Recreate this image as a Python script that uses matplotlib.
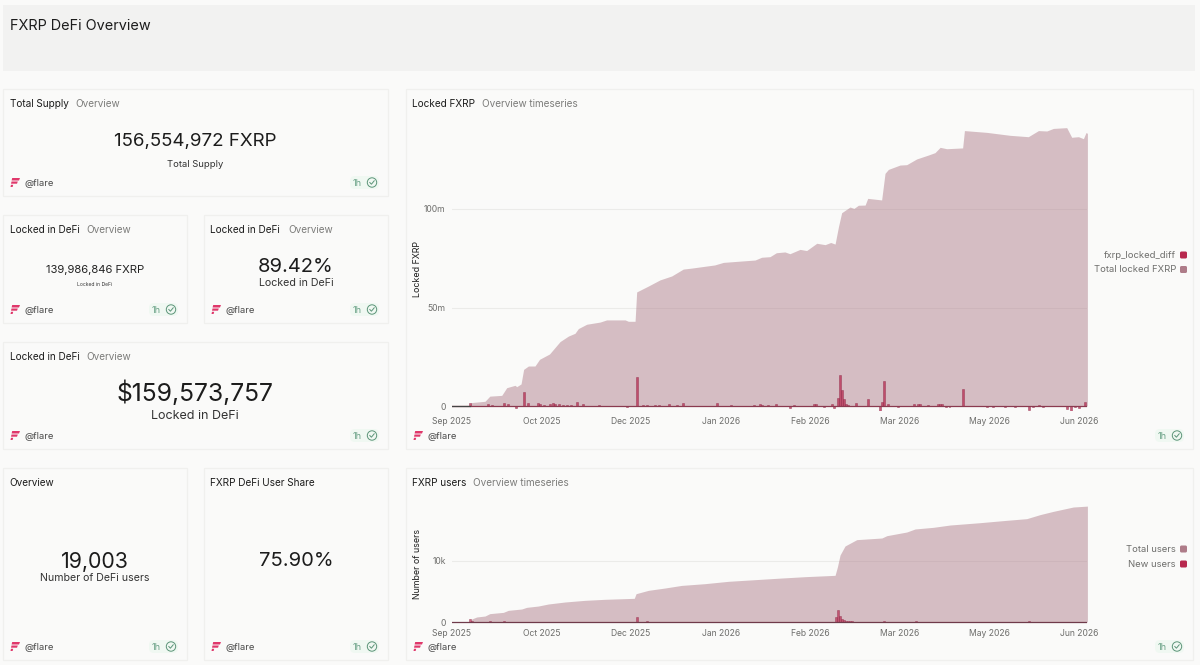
import matplotlib
matplotlib.use('Agg')
from matplotlib import pyplot as plt
from matplotlib.patches import Rectangle, FancyBboxPatch, Polygon, Circle

plt.rcParams['font.family'] = ['Inter', 'DejaVu Sans']

W, H = 1200, 665

# x is days since the left edge of the axis
tick_days = [0, 45, 90, 135, 180, 225, 270, 315]
tick_labels = ['Sep 2025', 'Oct 2025', 'Dec 2025', 'Jan 2026', 'Feb 2026',
               'Mar 2026', 'May 2026', 'Jun 2026']

locked_days = [0, 9, 9.4, 16.6, 19, 25, 27.5, 31.7, 32.5, 34.7, 36, 38.4, 41.7, 44, 49,
               54.3, 58.5, 61.8, 63.5, 67.7, 74.4, 77.7, 87, 88.6, 92, 92.8, 98.7, 104.5,
               110.4, 116.2, 120.4, 132, 136.4, 145.6, 152.3, 155.6, 159.8, 163, 167.3,
               169.8, 174.9, 178.2, 183.3, 187.5, 190.3, 192.5, 194.2, 195.8, 200, 202,
               204.2, 207.6, 208.9, 215.9, 217.6, 219.3, 225.1, 228.5, 233.5, 239.4,
               242.7, 245.3, 248.6, 256.6, 257.5, 268.7, 280.4, 289.6, 294.7, 298.9,
               302.2, 308.9, 311.4, 314.8, 317.3, 318.6, 319.3]
locked_total = [0, 0, 1.7, 2.4, 5, 5.4, 9.3, 10.5, 9.8, 11.2, 18.6, 20.3, 20.3, 23.7, 26.4,
                32.7, 35.5, 36.9, 39.3, 41.5, 42.6, 43.7, 43.7, 43, 43, 57.9, 60.9, 64,
                66, 69.5, 70, 71.6, 72.9, 73.6, 74.1, 75.5, 75.8, 77.8, 78.2,
                77.3, 79.5, 78.9, 82.6, 81.9, 83, 82.2, 91, 98.1, 101, 100.3,
                101.9, 102, 105.4, 104.6, 118.1, 120.1, 122.3, 122.5, 125.4, 127.4,
                128.6, 131.3, 130.6, 131, 139.8, 138.9, 137.4, 136.7, 139.8, 139.6,
                140.9, 141.3, 136.4, 136.7, 135.7, 138.8, 138.4]

diff_days = [9, 18, 20, 26, 28, 32, 36, 38, 43, 44, 46, 49, 51, 52, 54, 56, 58, 60, 63, 66,
             74, 88, 93, 96, 98, 102, 104, 109, 113, 116, 133, 140, 152, 155, 156, 159, 163,
             170, 172, 182, 183, 187, 191, 192, 194, 195, 196, 197, 198, 199, 203, 209, 215,
             216, 217, 219, 224, 232, 234, 235, 239, 244, 245, 246, 248, 250, 257, 269,
             272, 278, 283, 290, 292, 295, 297, 307, 309, 311, 313, 315, 318]
diff_values = [1.7, 1.2, 0.7, 1.7, 1, -1, 7, 1.4, 1.3, 0.8, 0.7, 1, 1.4, 1, 0.8, 0.7, 0.5, 0.7,
               1.9, 0.8, 0.3, -0.7, 14.5, 0.7, 0.7, 0.5, 0.5, 0.8, 0.7, 1.4, 1.7, 0.3, 0.7,
               0.8, 0.7, 0.7, 1.2, -0.9, 0.3, 0.9, 0.9, -0.7, 0.9, -0.9, 3.9, 15.6, 8.1, 3.4,
               0.9, 0.7, 1.5, 3.4, -2.4, 1.9, 12.9, 1, -0.3, 1.2, 1, 0.9, 0.7, 1, 1, 1, -0.5,
               -0.4, 8.6, -0.3, -0.3, -0.4, -0.4, -2, -0.3, 0.5, -0.4, -0.2, -1.4, -2.9,
               -0.7, -1, 2.2]

users_days = [0, 9, 10, 12.4, 16.6, 19, 25.8, 28.3, 35, 37.5, 43.4, 48.4, 56.8, 66.8, 76.9, 87,
              91.6, 92.5, 98.7, 107, 115.4, 127, 138.9, 152.3, 165.7, 177.4, 192.5, 193.7,
              195, 197.5, 203.4, 216, 218.5, 228.5, 232.7, 241.9, 250.3, 265.3, 278.8, 288.8,
              295.5, 302.2, 312.2, 319.3]
users_total = [0, 0, 0.5, 0.82, 0.98, 1.37, 1.58, 1.91, 2.13, 2.4, 2.62, 2.95, 3.28, 3.55, 3.72,
               3.83, 3.88, 4.64, 5.19, 5.57, 6.0, 6.28, 6.67, 6.94, 7.21, 7.43, 7.65, 9.07,
               10.98, 12.46, 13.5, 13.77, 14.15, 14.75, 15.25, 15.52, 15.9, 16.28, 16.67, 16.94,
               17.6, 18.14, 18.85, 19.0]

new_users_days = [9, 10, 19, 26, 93, 98, 193, 194, 195, 196, 197, 198, 199, 200, 201, 217, 233, 290, 300]
new_users = [0.5, 0.2, 0.1, 0.1, 0.85, 0.12, 0.75, 2.0, 1.0, 0.55, 0.28, 0.2, 0.16, 0.12, 0.1,
             0.15, 0.15, 0.1, 0.08]

BG = '#fafaf9'
BORDER = '#f0f0ee'
AREA = '#ae7c89'
BAR = '#b8294f'
DARK = '#1c1c1c'
GREY = '#7c7c7a'
PINK = '#e0386b'

fig = plt.figure(figsize=(W / 100, H / 100), dpi=100, facecolor=BG)

# page layer in pixel coordinates
page = fig.add_axes([0, 0, 1, 1], zorder=0)
page.set_xlim(0, W)
page.set_ylim(H, 0)
page.axis('off')


def logo(x, y):
    page.add_patch(Polygon([(x + 1.2, y - 4.5), (x + 9, y - 4.5), (x + 8, y - 2), (x + 0.6, y - 2)], color=PINK, lw=0))
    page.add_patch(Polygon([(x + 0.5, y - 1), (x + 6.8, y - 1), (x + 6, y + 1.2), (x, y + 1.2)], color=PINK, lw=0))
    page.add_patch(Polygon([(x, y + 2.3), (x + 2.2, y + 2.3), (x + 1.6, y + 4.5), (x - 0.5, y + 4.5)], color=PINK, lw=0))


def badge(right, y):
    # green "1h" pill with the check mark
    page.add_patch(FancyBboxPatch((right - 31, y - 6.5), 29, 13, boxstyle='round,pad=0,rounding_size=5',
                                  fc='#f0f8f2', ec='none'))
    page.text(right - 28, y + 0.7, '1h', fontsize=6.6, color='#6ba287', va='center', ha='left')
    page.add_patch(Circle((right - 9, y), 4.7, fc='none', ec='#5b9478', lw=0.7))
    page.plot([right - 11.2, right - 9.6, right - 6.8], [y, y + 1.7, y - 1.7], color='#5b9478', lw=0.7)


def card(x0, y0, x1, y1, title, sub=None, sub_x=None):
    page.add_patch(Rectangle((x0, y0), x1 - x0, y1 - y0, fc=BG, ec=BORDER, lw=0.9))
    page.text(x0 + 6.5, y0 + 15, title, fontsize=7.2, color=DARK, va='center')
    if sub:
        page.text(sub_x, y0 + 15, sub, fontsize=7.2, color=GREY, va='center')
    foot_y = y1 - 13.5
    logo(x0 + 8, foot_y)
    page.text(x0 + 21.5, foot_y + 0.7, '@flare', fontsize=6.8, color='#4c4c4c', va='center')
    badge(x1 - 7, foot_y)


def big(x, y, s, size, color=DARK):
    page.text(x, y + size * 0.1, s, fontsize=size, color=color, ha='center', va='center')


page.add_patch(Rectangle((3, 5), 1192, 66, fc='#f2f2f1', ec='none'))
page.text(10, 25.5, 'FXRP DeFi Overview', fontsize=10.4, color=DARK, va='center')

card(3, 89, 388, 196, 'Total Supply', 'Overview', 75)
big(195, 140, '156,554,972 FXRP', 13.5)
big(195, 164, 'Total Supply', 6.8, '#333333')

card(3, 215, 187, 323, 'Locked in DeFi', 'Overview', 86.5)
big(95, 269, '139,986,846 FXRP', 8.1, '#222222')
big(95, 284, 'Locked in DeFi', 3.6, '#333333')

card(204, 215, 388, 323, 'Locked in DeFi', 'Overview', 288)
big(296, 266, '89.42%', 14.5)
big(296, 282, 'Locked in DeFi', 7.7, '#333333')

card(3, 342, 388, 449, 'Locked in DeFi', 'Overview', 86.5)
big(195, 391, '$159,573,757', 17.8)
big(195, 415, 'Locked in DeFi', 9, '#333333')

card(3, 468, 187, 660, 'Overview')
big(95, 560, '19,003', 15.4)
big(95, 577, 'Number of DeFi users', 7.6, '#333333')

card(204, 468, 388, 660, 'FXRP DeFi User Share')
big(296, 560, '75.90%', 14.5)

card(406, 89, 1193, 449, 'Locked FXRP', 'Overview timeseries', 482)
card(406, 468, 1193, 660, 'FXRP users', 'Overview timeseries', 473)

X0, X1 = 452, 1087
PX_PER_DAY = 1.99


def chart(y_zero, y_top, y_bottom, px_per_unit, yticks, yticklabels):
    pos = [X0 / W, 1 - y_bottom / H, (X1 - X0) / W, (y_bottom - y_top) / H]
    ax = fig.add_axes(pos, zorder=1)
    ax.patch.set_alpha(0)
    ax.set_xlim(0, (X1 - X0) / PX_PER_DAY)
    ax.set_ylim((y_zero - y_bottom) / px_per_unit, (y_zero - y_top) / px_per_unit)
    for side in ax.spines.values():
        side.set_visible(False)
    ax.set_xticks(tick_days, tick_labels)
    ax.set_yticks(yticks, yticklabels)
    ax.tick_params(length=0, labelsize=6.2, labelcolor='#6e6e6c')
    ax.tick_params(axis='y', pad=4.5)
    ax.grid(axis='y', color='#ebebe9', lw=0.8, zorder=0)
    ax.set_axisbelow(True)
    for lab in ax.get_xticklabels():
        lab.set_clip_on(False)
    return ax


ax1 = chart(406, 115, 411, 1.97, [0, 50, 100], ['0', '50m', '100m'])
ax1.fill_between(locked_days, locked_total, 0, color=AREA, alpha=0.48, lw=0, zorder=2)
ax1.bar(diff_days, diff_values, width=1.0, color=BAR, alpha=0.75, edgecolor='#8f2a48', lw=0.4, zorder=3)
ax1.axhline(0, color='#8a3a50', lw=0.9, zorder=4)
ax1.plot([0, 9], [0, 0], color='#444444', lw=0.9, zorder=5)
ax1.tick_params(axis='x', pad=4.5)

ax2 = chart(622, 500, 626, 6.1, [0, 10], ['0', '10k'])
ax2.fill_between(users_days, users_total, 0, color=AREA, alpha=0.48, lw=0, zorder=2)
ax2.bar(new_users_days, new_users, width=1.0, color=BAR, alpha=0.7, edgecolor='#8f2a48', lw=0.4, zorder=3)
ax2.axhline(0, color='#6f3a4a', lw=0.9, zorder=4)
ax2.tick_params(axis='x', pad=2.5)

page.text(417.5, 269, 'Locked FXRP', fontsize=6.4, color=DARK, rotation=90, ha='center', va='center')
page.text(417.5, 564, 'Number of users', fontsize=6.4, color=DARK, rotation=90, ha='center', va='center')


def legend_row(y, label, color):
    page.text(1176, y + 0.5, label, fontsize=6.8, color='#6e6e6c', ha='right', va='center')
    page.add_patch(FancyBboxPatch((1180, y - 3.5), 7, 7, boxstyle='round,pad=0,rounding_size=1.5', fc=color, ec='none'))


legend_row(255, 'fxrp_locked_diff', BAR)
legend_row(269.5, 'Total locked FXRP', AREA)
legend_row(549, 'Total users', AREA)
legend_row(564, 'New users', BAR)

fig.savefig('out.png', dpi=100, facecolor=BG)
